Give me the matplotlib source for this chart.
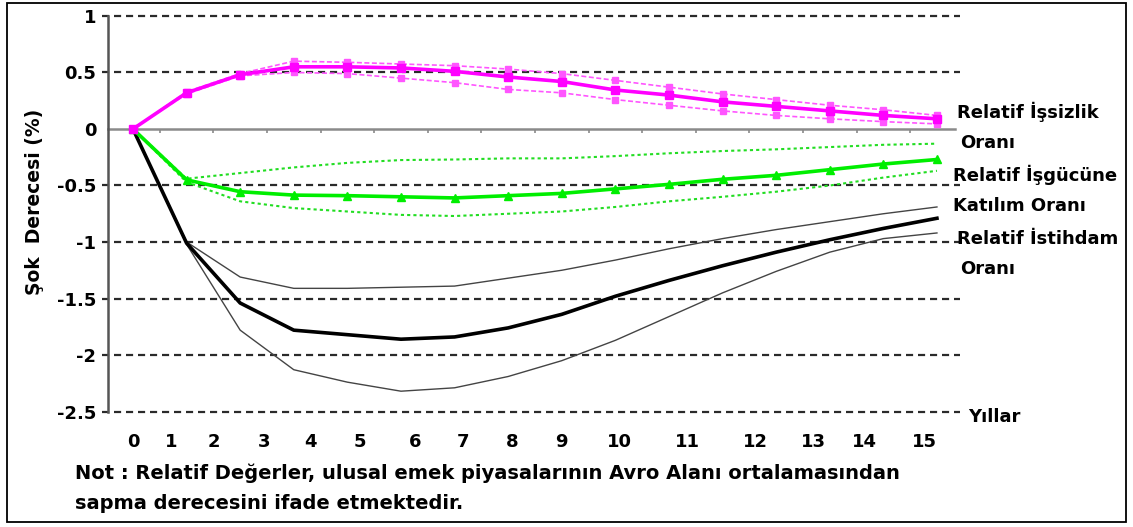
import numpy as np
import matplotlib
matplotlib.use("Agg")
import matplotlib.pyplot as plt
from matplotlib.patches import Rectangle

# ---------------- data ----------------
years = list(range(16))

unemp_mid = [0, 0.32, 0.48, 0.55, 0.55, 0.54, 0.51, 0.46, 0.42, 0.345, 0.30, 0.24, 0.20, 0.16, 0.12, 0.09]
unemp_hi = [0, 0.33, 0.49, 0.60, 0.59, 0.575, 0.56, 0.53, 0.49, 0.43, 0.37, 0.31, 0.26, 0.21, 0.17, 0.12]
unemp_lo = [0, 0.31, 0.47, 0.50, 0.49, 0.45, 0.41, 0.35, 0.32, 0.26, 0.21, 0.16, 0.12, 0.09, 0.065, 0.045]

part_mid = [0, -0.45, -0.555, -0.585, -0.59, -0.60, -0.61, -0.59, -0.57, -0.53, -0.49, -0.445, -0.41, -0.36, -0.31, -0.27]
part_hi = [0, -0.44, -0.39, -0.34, -0.30, -0.275, -0.27, -0.26, -0.26, -0.24, -0.215, -0.195, -0.18, -0.16, -0.14, -0.13]
part_lo = [0, -0.47, -0.64, -0.70, -0.73, -0.76, -0.77, -0.75, -0.73, -0.69, -0.64, -0.60, -0.555, -0.50, -0.43, -0.37]

emp_mid = [0, -1.01, -1.54, -1.78, -1.82, -1.86, -1.84, -1.76, -1.64, -1.48, -1.34, -1.21, -1.09, -0.98, -0.88, -0.79]
emp_hi = [0, -1.0, -1.31, -1.41, -1.41, -1.40, -1.39, -1.32, -1.25, -1.16, -1.06, -0.97, -0.89, -0.82, -0.75, -0.69]
emp_lo = [0, -1.02, -1.78, -2.13, -2.24, -2.32, -2.29, -2.19, -2.05, -1.87, -1.66, -1.45, -1.26, -1.09, -0.97, -0.92]

xtick_labels = [str(v) for v in range(16)]
# tick labels are placed irregularly in the original picture
xtick_pos = [0, 0.71, 1.5, 2.44, 3.31, 4.23, 5.26, 6.16, 7.07, 7.99, 9.08, 10.35, 11.62, 12.69, 13.65, 14.77]
ytick_vals = [1, 0.5, 0, -0.5, -1, -1.5, -2, -2.5]
ytick_labels = ["1", "0.5", "0", "-0.5", "-1", "-1.5", "-2", "-2.5"]
grid_vals = [1, 0.5, -0.5, -1, -1.5, -2, -2.5]

series_labels = [("Relatif İşsizlik", "Oranı"),
                 ("Relatif İşgücüne", "Katılım Oranı"),
                 ("Relatif İstihdam", "Oranı")]
note_lines = ["Not : Relatif Değerler, ulusal emek piyasalarının Avro Alanı ortalamasından",
              "sapma derecesini ifade etmektedir."]

# ---------------- figure ----------------
W, H = 1133, 527
fig = plt.figure(figsize=(W / 100, H / 100), dpi=100)
plt.rcParams['font.family'] = ['DejaVu Sans']

ax_l, ax_r, ax_t, ax_b = 102, 960, 13.7, 413.8
ax = fig.add_axes([ax_l / W, 1 - ax_b / H, (ax_r - ax_l) / W, (ax_b - ax_t) / H])
ax.set_xlim(-0.578, 15.43)
ax.set_ylim(-2.52, 1.02)
for s in ax.spines.values():
    s.set_visible(False)

# grid lines
for g in grid_vals:
    ax.axhline(g, color='#2a2a2a', lw=1.6, ls=(0, (3.2, 2.2)), zorder=1)
# zero line with small ticks
yaxis_x = -0.466
ax.plot([yaxis_x, 15.34], [0, 0], color='#8a8a8a', lw=1.8, zorder=2)
minor = np.arange(15) + 0.5
ax.vlines(minor, -0.035, 0, color='#8a8a8a', lw=1.2, zorder=2)
# y-axis line
ax.plot([yaxis_x, yaxis_x], [1, -2.5], color='#555555', lw=1.8, zorder=2)

# employment (black)
ax.plot(years, emp_hi, color='#444444', lw=1.0, zorder=3)
ax.plot(years, emp_lo, color='#444444', lw=1.0, zorder=3)
ax.plot(years, emp_mid, color='black', lw=2.6, zorder=4)

# participation (green)
ax.plot(years, part_hi, color='#22dd22', lw=1.5, ls=(0, (1.5, 1.5)), zorder=5)
ax.plot(years, part_lo, color='#22dd22', lw=1.5, ls=(0, (1.5, 1.5)), zorder=5)
ax.plot(years, part_mid, color='#00ee00', lw=2.6, marker='^', ms=6, zorder=6)

# unemployment (magenta)
ax.plot(years, unemp_hi, color='#ff55ff', lw=1.2, ls=(0, (3, 1.5)), marker='s', ms=4, zorder=7)
ax.plot(years, unemp_lo, color='#ff55ff', lw=1.2, ls=(0, (3, 1.5)), marker='s', ms=4, zorder=7)
ax.plot(years, unemp_mid, color='#ff00ff', lw=2.6, marker='s', ms=6, zorder=8)

# ticks
ax.set_xticks(xtick_pos, xtick_labels)
ax.set_yticks(ytick_vals, ytick_labels)
ax.tick_params(axis='x', length=0, pad=14, labelsize=13)
ax.tick_params(axis='y', length=0, pad=4, labelsize=13)
for t in ax.get_xticklabels() + ax.get_yticklabels():
    t.set_fontweight('bold')

def px(x, y):
    return x / W, 1 - y / H

# y label
fig.text(*px(35, 202), "Şok  Derecesi (%)", rotation=90, ha='center', va='center',
         fontsize=13.5, fontweight='bold')

# right labels
label_pos = [((957, 118), (960, 148)), ((953, 181), (953, 211)), ((957, 244), (960, 274))]
for (l1, l2), (p1, p2) in zip(series_labels, label_pos):
    fig.text(*px(*p1), l1, ha='left', va='baseline', fontsize=13, fontweight='bold')
    fig.text(*px(*p2), l2, ha='left', va='baseline', fontsize=13, fontweight='bold')
fig.text(*px(968, 422), "Yıllar", ha='left', va='baseline', fontsize=13, fontweight='bold')

# note
t1 = fig.text(*px(75, 479), note_lines[0], ha='left', va='baseline', fontsize=13, fontweight='bold')
t2 = fig.text(*px(75, 509), note_lines[1], ha='left', va='baseline', fontsize=13, fontweight='bold')
fig.canvas.draw()
r = fig.canvas.get_renderer()
w = t1.get_window_extent(r).width
fs = 13 * 818 / w
t1.set_fontsize(fs)
t2.set_fontsize(fs)

# border
fig.patches.append(Rectangle((7 / W, 1 - 522 / H), (1126 - 7) / W, (522 - 3) / H,
                             transform=fig.transFigure, fill=False, ec='black', lw=1.3))

fig.savefig("out.png", dpi=100)
